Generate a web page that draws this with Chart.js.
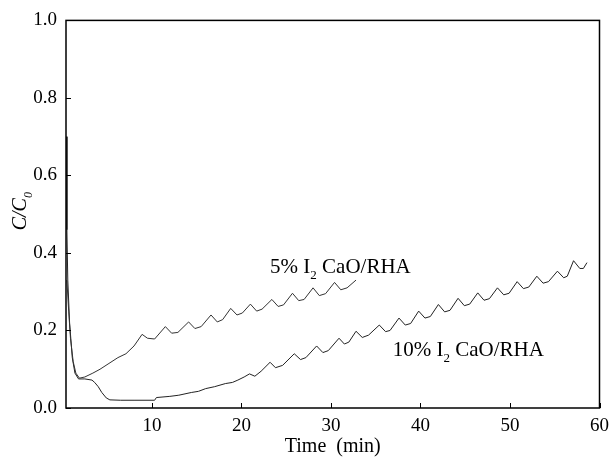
<!DOCTYPE html>
<html>
<head>
<meta charset="utf-8">
<script src="https://cdn.jsdelivr.net/npm/chart.js@4.4.1/dist/chart.umd.min.js"></script>
<style>
  html, body { margin: 0; padding: 0; background: #fff; }
</style>
</head>
<body>
<canvas id="breakthrough" width="616" height="463"></canvas>
<script>
// 5% I2 CaO/RHA (time in min, C/C0)
const time5 = [0.5, 0.7, 0.9, 1.2, 1.5, 1.9, 2.5, 3.4, 4.2, 5.2, 6.2, 7.1, 8.0, 8.9, 9.5, 10.3,
  11.5, 12.2, 12.9, 14.1, 14.8, 15.5, 16.6, 17.3, 17.9, 18.8, 19.5, 20.1, 21.0, 21.7, 22.3,
  23.4, 24.1, 24.7, 25.7, 26.4, 27.0, 28.0, 28.7, 29.4, 30.4, 31.1, 31.8, 32.8];
const ratio5 = [0.33, 0.25, 0.18, 0.12, 0.09, 0.077, 0.08, 0.09, 0.10, 0.115, 0.13, 0.14, 0.16, 0.19, 0.18, 0.178,
  0.21, 0.193, 0.195, 0.222, 0.205, 0.21, 0.24, 0.222, 0.228, 0.257, 0.24, 0.245, 0.268, 0.25, 0.255,
  0.28, 0.262, 0.266, 0.296, 0.277, 0.28, 0.31, 0.29, 0.295, 0.324, 0.305, 0.31, 0.33];

// 10% I2 CaO/RHA
const time10 = [0.5, 0.5, 0.6, 0.8, 1.1, 1.4, 1.8, 2.5, 3.3, 3.6, 4.0, 4.4, 4.9, 5.3, 6.5, 8.0, 10.3,
  10.5, 12.0, 13.0, 14.4, 15.2, 16.0, 17.0, 18.2, 19.0, 19.6, 20.3, 20.9, 21.5, 22.2,
  23.2, 23.8, 24.6, 25.9, 26.6, 27.2, 28.4, 29.1, 29.7, 30.9, 31.5, 32.0, 32.8, 33.5, 34.2,
  35.4, 36.1, 36.6, 37.6, 38.3, 38.9, 39.8, 40.5, 41.1, 42.0, 42.7, 43.3, 44.2, 44.9, 45.5,
  46.4, 47.1, 47.7, 48.6, 49.3, 49.9, 50.8, 51.5, 52.1, 53.0, 53.7, 54.3, 55.3, 56.0, 56.4,
  57.1, 57.8, 58.2, 58.6];
const ratio10 = [0.70, 0.46, 0.33, 0.22, 0.13, 0.09, 0.075, 0.075, 0.072, 0.066, 0.055, 0.04, 0.026, 0.021, 0.02, 0.02, 0.02,
  0.027, 0.03, 0.033, 0.04, 0.043, 0.05, 0.055, 0.063, 0.066, 0.072, 0.08, 0.088, 0.082, 0.095,
  0.118, 0.104, 0.11, 0.14, 0.125, 0.13, 0.16, 0.143, 0.148, 0.18, 0.165, 0.17, 0.198, 0.182, 0.188,
  0.214, 0.197, 0.2, 0.232, 0.214, 0.218, 0.25, 0.232, 0.236, 0.267, 0.248, 0.252, 0.283, 0.264, 0.268,
  0.297, 0.278, 0.282, 0.31, 0.292, 0.296, 0.326, 0.308, 0.312, 0.34, 0.322, 0.326, 0.353, 0.336, 0.34,
  0.38, 0.36, 0.36, 0.375];

const xTicks = [10, 20, 30, 40, 50, 60];
const yTicks = [0, 0.2, 0.4, 0.6, 0.8, 1.0];

// label text split as [before, subscript, after] and where it sits in data units
const label5 = ['5% I', '2', ' CaO/RHA'];
const label10 = ['10% I', '2', ' CaO/RHA'];
const label5At = [23.2, 0.348];
const label10At = [36.9, 0.133];

const serif = 'Liberation Serif, Times New Roman, serif';

function pts(xs, ys) {
  return xs.map((v, i) => ({ x: v, y: ys[i] }));
}

function subText(ctx, parts, x, y, size, italic) {
  const st = italic ? 'italic ' : '';
  ctx.font = st + size + 'px ' + serif;
  ctx.fillText(parts[0], x, y);
  x += ctx.measureText(parts[0]).width;
  ctx.font = st + Math.round(size * 0.62) + 'px ' + serif;
  ctx.fillText(parts[1], x, y + size * 0.28);
  x += ctx.measureText(parts[1]).width;
  ctx.font = st + size + 'px ' + serif;
  ctx.fillText(parts[2], x, y);
}

const frame = {
  id: 'frame',
  afterDraw(chart) {
    const { ctx, chartArea: a, scales: { x, y } } = chart;
    ctx.save();
    ctx.strokeStyle = '#000';
    ctx.lineWidth = 1.5;
    ctx.strokeRect(a.left, a.top, a.right - a.left, a.bottom - a.top);

    // inward tick marks
    ctx.lineWidth = 1;
    ctx.beginPath();
    xTicks.forEach(v => {
      const px = Math.round(x.getPixelForValue(v)) + 0.5;
      ctx.moveTo(px, a.bottom);
      ctx.lineTo(px, a.bottom - 5);
    });
    yTicks.forEach(v => {
      const py = Math.round(y.getPixelForValue(v)) + 0.5;
      ctx.moveTo(a.left, py);
      ctx.lineTo(a.left + 5, py);
    });
    ctx.stroke();

    ctx.fillStyle = '#000';
    ctx.textBaseline = 'alphabetic';
    ctx.textAlign = 'left';
    subText(ctx, label5, x.getPixelForValue(label5At[0]), y.getPixelForValue(label5At[1]), 21, false);
    subText(ctx, label10, x.getPixelForValue(label10At[0]), y.getPixelForValue(label10At[1]), 21, false);

    // y axis title C/C0
    ctx.translate(a.left - 40, (a.top + a.bottom) / 2 - 4);
    ctx.rotate(-Math.PI / 2);
    ctx.font = 'italic 20px ' + serif;
    const w = ctx.measureText('C/C').width + 8;
    subText(ctx, ['C/C', '0', ''], -w / 2, 0, 20, true);
    ctx.restore();
  }
};

const tickFont = { family: serif, size: 19 };

new Chart(document.getElementById('breakthrough'), {
  type: 'line',
  data: {
    datasets: [
      { label: '5% I2 CaO/RHA', data: pts(time5, ratio5), borderColor: '#333', borderWidth: 1, pointRadius: 0, tension: 0 },
      { label: '10% I2 CaO/RHA', data: pts(time10, ratio10), borderColor: '#222', borderWidth: 1, pointRadius: 0, tension: 0 }
    ]
  },
  options: {
    responsive: false,
    animation: false,
    layout: { padding: { top: 18, right: 10, left: 0, bottom: 0 } },
    plugins: { legend: { display: false }, tooltip: { enabled: false } },
    scales: {
      x: {
        type: 'linear',
        min: 0.4,
        max: 60,
        afterBuildTicks: s => { s.ticks = xTicks.map(v => ({ value: v })); },
        afterFit: s => { s.height = 55; },
        grid: { display: false, drawTicks: false },
        border: { display: false },
        ticks: { font: tickFont, color: '#000', padding: 7, maxRotation: 0 },
        title: { display: true, text: 'Time  (min)', font: { family: serif, size: 20 }, color: '#000', padding: { top: 2, bottom: 4 } }
      },
      y: {
        min: 0,
        max: 1,
        afterBuildTicks: s => { s.ticks = yTicks.map(v => ({ value: v })); },
        afterFit: s => { s.width = 66; },
        grid: { display: false, drawTicks: false },
        border: { display: false },
        ticks: { font: tickFont, color: '#000', padding: 9, callback: v => v.toFixed(1) }
      }
    }
  },
  plugins: [frame]
});
</script>
</body>
</html>
